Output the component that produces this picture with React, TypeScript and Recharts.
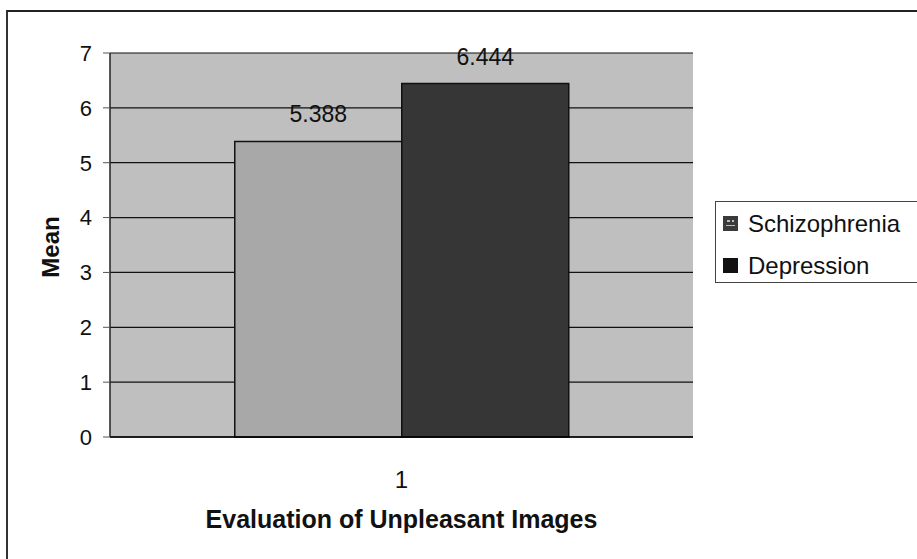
import React from "react";
import {
  BarChart,
  Bar,
  XAxis,
  YAxis,
  CartesianGrid,
  Legend,
  LabelList,
  Label,
} from "recharts";

const categories = ["1"];
const schizophrenia = [5.388];
const depression = [6.444];
const yTicks = [0, 1, 2, 3, 4, 5, 6, 7];
const seriesNames = ["Schizophrenia", "Depression"];

const data = categories.map((c, i) => ({
  name: c,
  [seriesNames[0]]: schizophrenia[i],
  [seriesNames[1]]: depression[i],
}));

const FONT = "'Liberation Sans', Arial, sans-serif";

const LegendBox = (props: any) => {
  const payload = [...(props.payload || [])].sort(
    (a: any, b: any) => seriesNames.indexOf(a.value) - seriesNames.indexOf(b.value)
  );
  return (
    <div
      style={{
        border: "1px solid #444",
        borderRight: "none",
        background: "#fff",
        width: 210,
        height: 82,
        boxSizing: "border-box",
        paddingTop: 6,
        paddingLeft: 7,
        fontFamily: FONT,
        fontSize: 24,
        color: "#111",
      }}
    >
      {payload.map((p: any, i: number) => (
        <div
          key={i}
          style={{ display: "flex", alignItems: "center", height: 32, marginBottom: 10 }}
        >
          <svg width={16} height={16} style={{ marginRight: 9 }}>
            <rect x={0} y={0} width={15} height={15} fill={i === 0 ? "#3a3a3a" : "#111"} />
            {i === 0 ? (
              <g fill="#bbb">
                <rect x={4} y={4} width={3} height={2} />
                <rect x={9} y={4} width={2} height={2} />
                <rect x={3} y={9} width={9} height={1} />
              </g>
            ) : null}
          </svg>
          <span>{p.value}</span>
        </div>
      ))}
    </div>
  );
};

const YTitle = (props: any) => {
  const vb = props.viewBox || { x: 0, y: 0, height: 0 };
  const cx = vb.x + 50;
  const cy = vb.y + vb.height / 2 + 2;
  return (
    <text
      x={cx}
      y={cy}
      transform={`rotate(-90 ${cx} ${cy})`}
      textAnchor="middle"
      dominantBaseline="central"
      fontFamily={FONT}
      fontWeight="bold"
      fontSize={24}
      fill="#111"
    >
      Mean
    </text>
  );
};

export default function App() {
  return (
    <div
      style={{
        position: "absolute",
        left: 0,
        top: 0,
        width: 917,
        height: 559,
        overflow: "hidden",
        background: "#fff",
      }}
    >
      <style>{`body{margin:0;overflow:hidden;}`}</style>
      <div
        style={{
          position: "absolute",
          left: 6,
          top: 10,
          width: 920,
          height: 560,
          borderTop: "2px solid #222",
          borderLeft: "2px solid #333",
        }}
      />
      <BarChart
        width={917}
        height={559}
        data={data}
        margin={{ top: 53, right: 224, bottom: 0, left: 0 }}
        barCategoryGap="21.4%"
        barGap={0}
      >
        <CartesianGrid
          yAxisId="left"
          vertical={false}
          stroke="#111"
          strokeWidth={1.2}
          fill="#bfbfbf"
          fillOpacity={1}
        />
        <XAxis
          dataKey="name"
          height={122}
          tickLine={false}
          axisLine={{ stroke: "#000", strokeWidth: 1.5 }}
          tickMargin={28}
          tick={{ fontFamily: FONT, fontSize: 24, fill: "#111" }}
        >
          <Label
            value="Evaluation of Unpleasant Images"
            position="insideBottom"
            offset={31}
            style={{ fontFamily: FONT, fontWeight: "bold", fontSize: 25, fill: "#111" }}
          />
        </XAxis>
        <YAxis
          yAxisId="left"
          width={110}
          domain={[0, 7]}
          ticks={yTicks}
          interval={0}
          tickSize={7}
          tickMargin={11}
          axisLine={{ stroke: "#222", strokeWidth: 1.5 }}
          tickLine={{ stroke: "#555" }}
          tick={{ fontFamily: FONT, fontSize: 22, fill: "#111" }}
        >
          <Label content={YTitle} />
        </YAxis>
        <YAxis
          yAxisId="right"
          orientation="right"
          width={0}
          domain={[0, 7]}
          tick={false}
          tickLine={false}
          axisLine={{ stroke: "#8a8a8a", strokeWidth: 1.5 }}
        />
        <Legend
          layout="vertical"
          align="center"
          verticalAlign="middle"
          content={LegendBox}
          wrapperStyle={{ left: 715, top: 201, width: 210, height: 82 }}
        />
        <Bar
          yAxisId="left"
          dataKey={seriesNames[0]}
          name={seriesNames[0]}
          fill="#a8a8a8"
          stroke="#111"
          strokeWidth={1.5}
          isAnimationActive={false}
        >
          <LabelList
            dataKey={seriesNames[0]}
            position="top"
            offset={19}
            style={{ fontFamily: FONT, fontSize: 23, fill: "#111" }}
          />
        </Bar>
        <Bar
          yAxisId="left"
          dataKey={seriesNames[1]}
          name={seriesNames[1]}
          fill="#363636"
          stroke="#111"
          strokeWidth={1.5}
          isAnimationActive={false}
        >
          <LabelList
            dataKey={seriesNames[1]}
            position="top"
            offset={19}
            style={{ fontFamily: FONT, fontSize: 23, fill: "#111" }}
          />
        </Bar>
      </BarChart>
    </div>
  );
}
